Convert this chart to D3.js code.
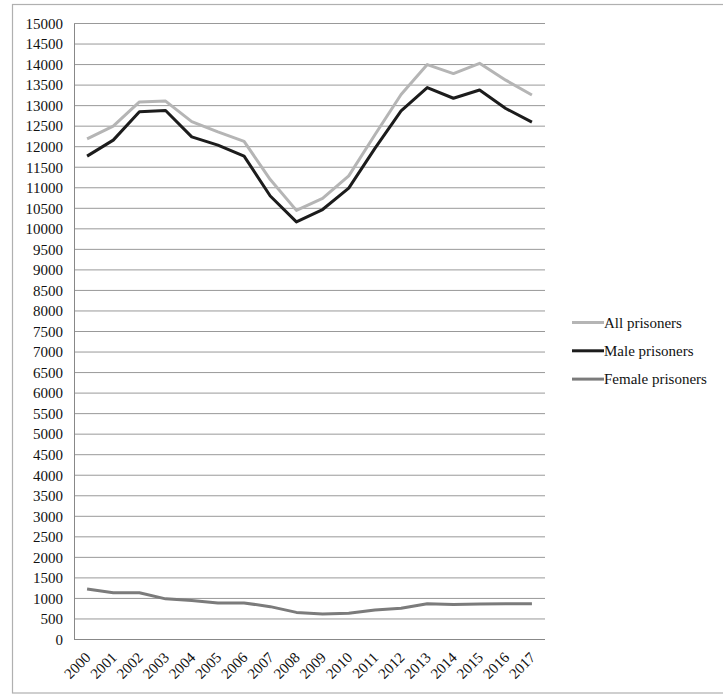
<!DOCTYPE html>
<html><head><meta charset="utf-8">
<script src="https://cdn.jsdelivr.net/npm/d3@7"></script>
<style>body{margin:0;background:#fff}svg{display:block}</style>
</head><body>
<svg id="c" width="723" height="695"></svg>
<script>
const years = ["2000","2001","2002","2003","2004","2005","2006","2007","2008","2009","2010","2011","2012","2013","2014","2015","2016","2017"];
const allPrisoners = [12190,12500,13090,13110,12610,12360,12130,11200,10450,10740,11290,12290,13270,14000,13780,14030,13620,13260];
const malePrisoners = [11770,12160,12850,12880,12240,12040,11770,10800,10170,10470,10990,11960,12870,13440,13180,13380,12930,12600];
const femalePrisoners = [1230,1140,1140,990,950,890,890,800,660,620,640,720,760,870,850,865,870,870];
const yTicks = d3.range(0, 15001, 500);
const seriesNames = ["All prisoners","Male prisoners","Female prisoners"];
const seriesColors = ["#b5b5b5","#1c1c1c","#7b7b7b"];

const svg = d3.select("#c");
const L = 74, R = 545, T = 23.5, B = 639.5;
const font = "'Liberation Serif', 'Times New Roman', serif";

svg.append("rect").attr("x",12.5).attr("y",4.5).attr("width",722).attr("height",688.5)
  .attr("fill","none").attr("stroke","#b0b0b0").attr("stroke-width",1.2);

const x = d3.scalePoint().domain(years).range([L, R]).padding(0.5);
const y = d3.scaleLinear().domain([0,15000]).range([B, T]);

// gridlines
svg.append("g").selectAll("line").data(yTicks.filter(d=>d>0)).join("line")
  .attr("x1",L).attr("x2",R).attr("y1",d=>y(d)).attr("y2",d=>y(d))
  .attr("stroke","#999").attr("stroke-width",1);

const yAxis = svg.append("g").attr("transform",`translate(${L},0)`)
  .call(d3.axisLeft(y).tickValues(yTicks).tickSize(0).tickPadding(11).tickFormat(d=>String(d)));
yAxis.select(".domain").attr("stroke","#888");
yAxis.selectAll("text").attr("font-family",font).attr("font-size",15).attr("fill","#111");

const xAxis = svg.append("g").attr("transform",`translate(0,${B})`)
  .call(d3.axisBottom(x).tickSize(0).tickPadding(0));
xAxis.select(".domain").attr("stroke","#888").attr("d",`M${L},0H${R}`);
xAxis.selectAll("text").attr("font-family",font).attr("font-size",15).attr("fill","#111")
  .attr("text-anchor","end").attr("dy",0)
  .attr("transform","translate(4,19) rotate(-45)");

const line = d3.line().x((d,i)=>x(years[i])).y(d=>y(d));
[allPrisoners, malePrisoners, femalePrisoners].forEach((s,i)=>{
  svg.append("path").datum(s).attr("d",line).attr("fill","none")
    .attr("stroke",seriesColors[i]).attr("stroke-width",3).attr("stroke-linejoin","round");
});

const lg = svg.append("g");
seriesNames.forEach((n,i)=>{
  const yy = 322.5 + i*28.3;
  lg.append("line").attr("x1",572).attr("x2",604).attr("y1",yy).attr("y2",yy)
    .attr("stroke",seriesColors[i]).attr("stroke-width",3);
  lg.append("text").attr("x",604).attr("y",yy+5).text(n)
    .attr("font-family",font).attr("font-size",15).attr("fill","#111");
});
</script>
</body></html>
